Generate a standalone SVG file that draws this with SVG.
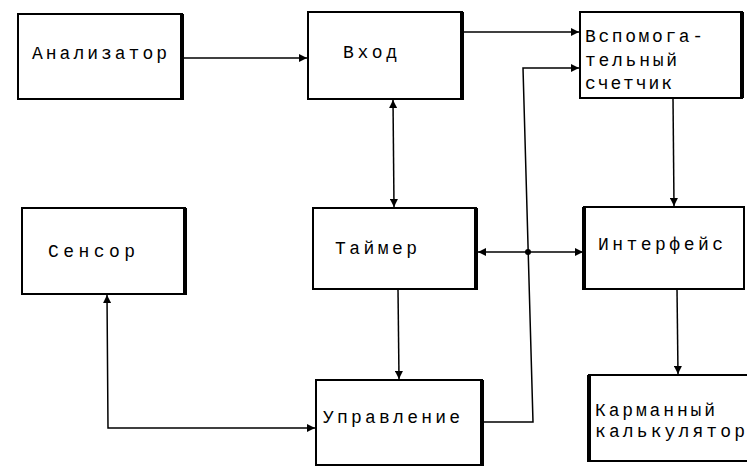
<svg xmlns="http://www.w3.org/2000/svg" width="747" height="469" viewBox="0 0 747 469">
<style>
.box{fill:#fff;stroke:#000;stroke-width:2}
.edge{stroke:#000;stroke-width:4;fill:none}
.t{font-family:"Liberation Mono","DejaVu Sans Mono",monospace;font-size:18px;fill:#000}
.c{stroke:#000;stroke-width:1.5;fill:none}
</style>
<defs>
<marker id="ah" viewBox="0 0 10 10" refX="10" refY="5" markerWidth="9" markerHeight="8" markerUnits="userSpaceOnUse" orient="auto-start-reverse">
<path d="M0,0 L10,5 L0,10 z" fill="#000"/>
</marker>
</defs>
<rect width="747" height="469" fill="#fff"/>
<g id="connectors">
<line class="c" x1="182" y1="58" x2="307" y2="58" marker-end="url(#ah)"/>
<line class="c" x1="462" y1="32" x2="579" y2="32" marker-end="url(#ah)"/>
<line class="c" x1="393" y1="100" x2="394" y2="207" marker-start="url(#ah)" marker-end="url(#ah)"/>
<line class="c" x1="673" y1="98" x2="674" y2="206" marker-end="url(#ah)"/>
<line class="c" x1="398" y1="289" x2="399" y2="379" marker-end="url(#ah)"/>
<line class="c" x1="677" y1="289" x2="678" y2="374" marker-end="url(#ah)"/>
<path class="c" d="M107,295 L108,428 L315,428" marker-start="url(#ah)" marker-end="url(#ah)"/>
<path class="c" d="M482,422 L533,422 L523,68 L579,68" marker-end="url(#ah)"/>
<line class="c" x1="478" y1="252" x2="583" y2="252" marker-start="url(#ah)" marker-end="url(#ah)"/>
<circle cx="528" cy="252" r="3" fill="#000"/>
</g>
<g id="analyzer">
<rect class="box" x="18" y="14" width="164" height="85"/>
<line class="edge" x1="182" y1="14" x2="182" y2="100"/>
<text class="t" x="32" y="59" textLength="135" lengthAdjust="spacing">Анализатор</text>
</g>
<g id="input">
<rect class="box" x="308" y="12" width="154" height="87"/>
<line class="edge" x1="462" y1="12" x2="462" y2="100"/>
<text class="t" x="343" y="58" textLength="54" lengthAdjust="spacing">Вход</text>
</g>
<g id="aux-counter">
<rect class="box" x="580" y="12" width="162" height="86"/>
<line class="edge" x1="742" y1="12" x2="742" y2="98"/>
<text class="t" x="585" y="42" textLength="118" lengthAdjust="spacing">Вспомога-</text>
<text class="t" x="585" y="66" textLength="92" lengthAdjust="spacing">тельный</text>
<text class="t" x="585" y="89" textLength="87" lengthAdjust="spacing">счетчик</text>
</g>
<g id="sensor">
<rect class="box" x="22" y="208" width="163" height="86"/>
<line class="edge" x1="185" y1="208" x2="185" y2="295"/>
<text class="t" x="48" y="257" textLength="87" lengthAdjust="spacing">Сенсор</text>
</g>
<g id="timer">
<rect class="box" x="313" y="208" width="163" height="81"/>
<line class="edge" x1="476" y1="208" x2="476" y2="290"/>
<text class="t" x="335" y="254" textLength="82" lengthAdjust="spacing">Таймер</text>
</g>
<g id="interface">
<rect class="box" x="584" y="207" width="160" height="82"/>
<line class="edge" x1="584" y1="207" x2="584" y2="290"/>
<text class="t" x="598" y="250" textLength="125" lengthAdjust="spacing">Интерфейс</text>
</g>
<g id="control">
<rect class="box" x="316" y="380" width="166" height="85"/>
<line class="edge" x1="482" y1="380" x2="482" y2="466"/>
<text class="t" x="323" y="423" textLength="137" lengthAdjust="spacing">Управление</text>
</g>
<g id="calculator">
<rect class="box" x="589" y="375" width="160" height="86"/>
<line class="edge" x1="589" y1="375" x2="589" y2="462"/>
<text class="t" x="595" y="416" textLength="120" lengthAdjust="spacing">Карманный</text>
<text class="t" x="595" y="437" textLength="150" lengthAdjust="spacing">калькулятор</text>
</g>
</svg>
